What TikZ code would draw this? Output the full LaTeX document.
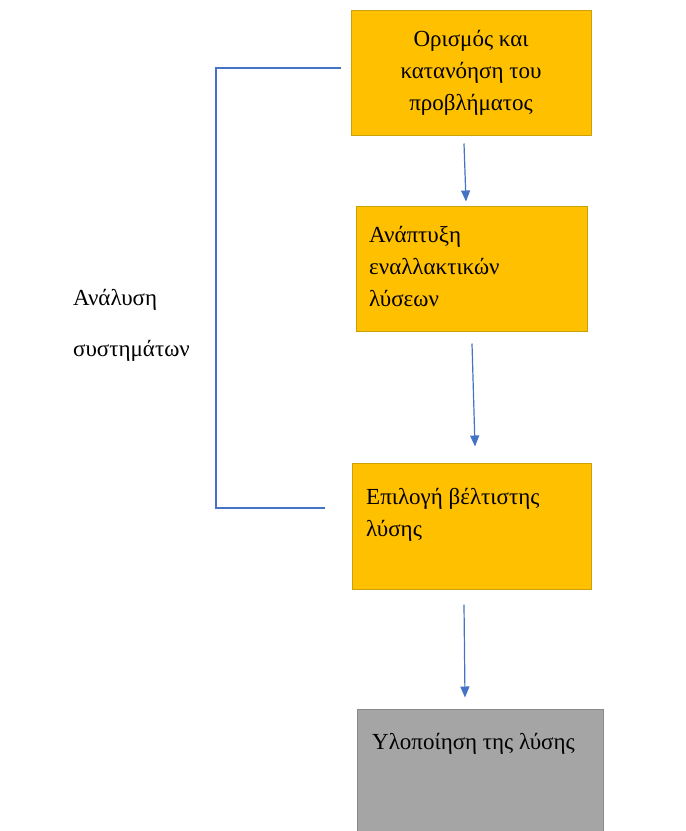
\documentclass[tikz,border=0pt]{standalone}
\usepackage{fontspec}
\setmainfont{Liberation Serif}
\usetikzlibrary{arrows.meta}
\definecolor{boxyellow}{HTML}{FFC000}
\definecolor{boxyellowline}{HTML}{C9A20A}
\definecolor{boxgray}{HTML}{A5A5A5}
\definecolor{boxgrayline}{HTML}{8A8A8A}
\definecolor{linkblue}{HTML}{4472C4}
\tikzset{
  ybox/.style={draw=boxyellowline, fill=boxyellow, line width=1pt, inner sep=0pt},
  gbox/.style={draw=boxgrayline, fill=boxgray, line width=1pt, inner sep=0pt},
  txt/.style={font=\fontsize{23}{32}\selectfont, inner sep=0pt},
  arr/.style={draw=linkblue, line width=1.2pt, -{Triangle[width=9pt,length=11pt]}},
  bracket/.style={draw=linkblue, line width=1.5pt},
}
\begin{document}
\begin{tikzpicture}[x=1pt,y=-1pt]
  \useasboundingbox (0,0) rectangle (686,831);
  % process boxes
  \node[ybox, minimum width=240pt, minimum height=125pt] (b1) at (471,72.5) {};
  \node[ybox, minimum width=231pt, minimum height=125pt] (b2) at (471.5,268.5) {};
  \node[ybox, minimum width=239pt, minimum height=126pt] (b3) at (471.5,526) {};
  \node[gbox, minimum width=246pt, minimum height=130pt] (b4) at (480,774) {};
  % box texts (base anchor sits on the last line)
  \node[txt, align=center] (t1) at (b1.center) {Ορισμός και\\κατανόηση του\\προβλήματος};
  \node[txt, align=left, anchor=base west] (t2) at (369,306) {Ανάπτυξη\\εναλλακτικών\\λύσεων};
  \node[txt, align=left, anchor=base west] (t3) at (366,536) {Επιλογή βέλτιστης\\λύσης};
  \node[txt, anchor=base west] (t4) at (372,749) {Υλοποίηση της λύσης};
  % side label
  \node[txt, align=left, anchor=base west, font=\fontsize{23}{51}\selectfont] (side) at (73,356) {Ανάλυση\\συστημάτων};
  % arrows between steps
  \draw[arr] ([xshift=-7pt,yshift=-8pt]b1.south) -- ([xshift=-5.5pt,yshift=4pt]b2.north);
  \draw[arr] ([xshift=0.5pt,yshift=-12pt]b2.south) -- ([xshift=3.5pt,yshift=16pt]b3.north);
  \draw[arr] ([xshift=-7.5pt,yshift=-15pt]b3.south) -- ([xshift=-15pt,yshift=11pt]b4.north);
  % bracket grouping the analysis steps
  \draw[bracket] ([xshift=-10pt,yshift=4.5pt]b1.west) -| (216,508) -- ([xshift=-27pt,yshift=18pt]b3.west);
\end{tikzpicture}
\end{document}
